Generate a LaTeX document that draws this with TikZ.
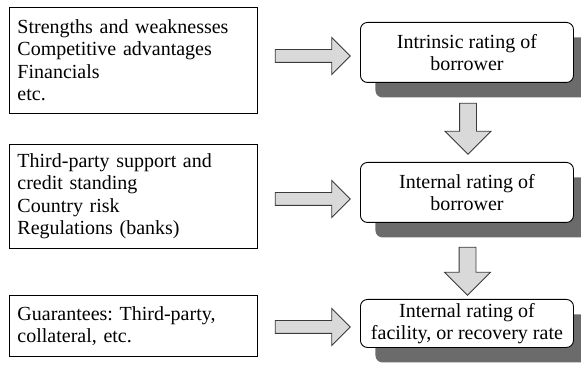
\documentclass[tikz,border=0pt]{standalone}
\usepackage{fontspec}
\setmainfont{Liberation Serif}
\usetikzlibrary{shapes.arrows,shadows}
\definecolor{arrowfill}{HTML}{D9D9D9}
\definecolor{arrowline}{HTML}{3A3A3A}
\definecolor{shadowgray}{HTML}{6B6B6B}
\frenchspacing
\tikzset{
  labelfont/.style={font=\fontsize{20}{22.5}\selectfont},
  factorbox/.style={labelfont, draw=black, line width=0.9pt, anchor=north west,
    minimum width=248pt, text width=232pt, inner xsep=8pt, inner ysep=2pt, align=left},
  ratingbox/.style={labelfont, draw=black, fill=white, line width=0.9pt, rounded corners=7pt,
    anchor=north west, minimum width=213pt, inner sep=2pt, align=center,
    drop shadow={shadow xshift=15pt, shadow yshift=-15pt, fill=shadowgray, opacity=1}},
  blockarrow/.style={single arrow, draw=arrowline, fill=arrowfill, line width=0.8pt,
    inner xsep=0pt, minimum width=0pt, single arrow tip angle=90},
  sidearrow/.style={blockarrow, inner ysep=6pt, single arrow head extend=12pt, minimum height=75pt},
  downarrow/.style={blockarrow, inner ysep=8pt, single arrow head extend=14.5pt, rotate=-90}
}
\begin{document}
\begin{tikzpicture}[x=1pt, y=-1pt]
  \useasboundingbox (0,0) rectangle (581,371);

  % input factors
  \node[factorbox, minimum height=106pt] (l1) at (9,7)
    {Strengths and weaknesses\\Competitive advantages\\Financials\\etc.};
  \node[factorbox, minimum height=104pt] (l2) at (9,144)
    {Third-party support and\\credit standing\\Country risk\\Regulations (banks)};
  \node[factorbox, minimum height=61pt] (l3) at (9,295)
    {Guarantees: Third-party,\\collateral, etc.};

  % ratings
  \node[ratingbox, minimum height=60pt] (r1) at (360,22) {Intrinsic rating of\\borrower};
  \node[ratingbox, minimum height=60pt] (r2) at (360,162) {Internal rating of\\borrower};
  \node[ratingbox, minimum height=48pt] (r3) at (360,299) {Internal rating of\\facility, or recovery rate};

  % block arrows
  \node[sidearrow] (a1) at (309.5,56) {};
  \node[sidearrow] (a2) at (309.5,199) {};
  \node[sidearrow] (a3) at (309.5,327) {};
  \node[downarrow, minimum height=51pt] (d1) at (468,124.5) {};
  \node[downarrow, minimum height=48pt] (d2) at (467.5,267) {};
\end{tikzpicture}
\end{document}
